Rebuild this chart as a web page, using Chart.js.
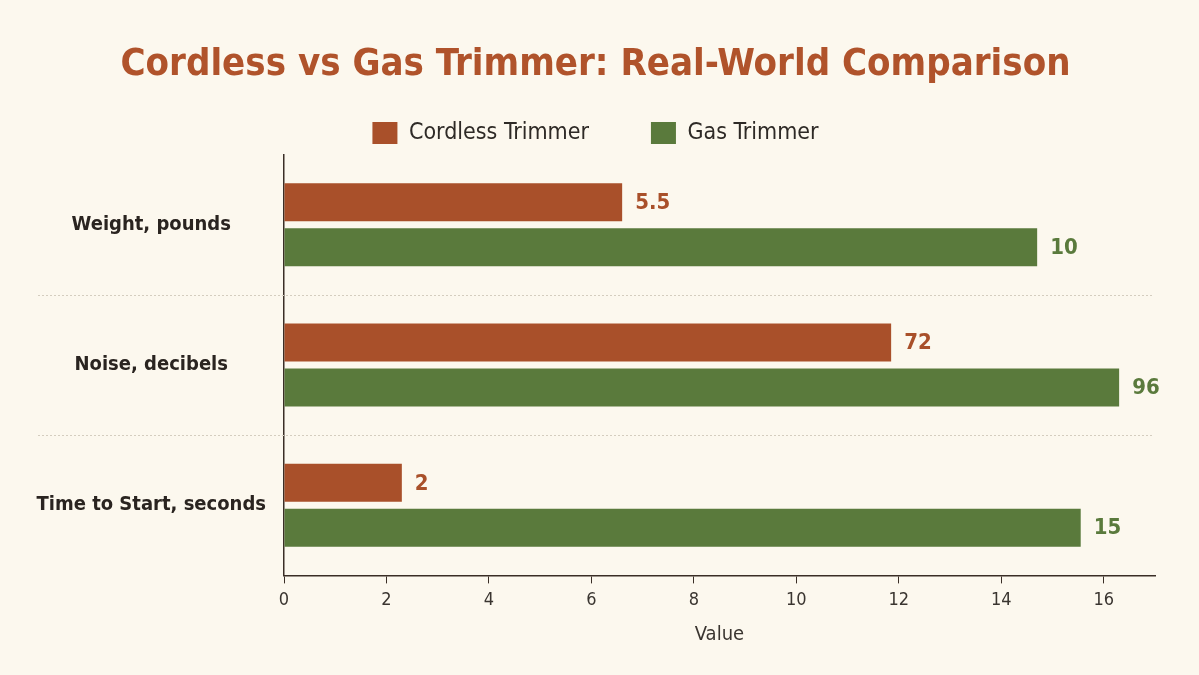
<!DOCTYPE html>
<html>
<head>
<meta charset="utf-8">
<script src="https://cdn.jsdelivr.net/npm/chart.js@4.4.0/dist/chart.umd.min.js"></script>
<style>
  html, body { margin: 0; padding: 0; background: #FCF8EE; }
  #wrap { width: 1199px; height: 675px; position: relative; }
</style>
</head>
<body>
<div id="wrap"><canvas id="c"></canvas></div>
<script>
const categories = ['Weight, pounds', 'Noise, decibels', 'Time to Start, seconds'];
const seriesNames = ['Cordless Trimmer', 'Gas Trimmer'];
// bar lengths as drawn against the value axis
const cordlessValues = [6.6, 11.85, 2.3];
const gasValues = [14.7, 16.3, 15.55];
// value labels printed next to the bars
const cordlessLabels = ['5.5', '72', '2'];
const gasLabels = ['10', '96', '15'];
const xTickValues = [0, 2, 4, 6, 8, 10, 12, 14, 16];
const xAxisTitle = 'Value';
const chartTitle = 'Cordless vs Gas Trimmer: Real-World Comparison';

const CORDLESS = '#A9502A';
const GAS = '#5A7A3C';
const INK = '#3A2E26';
const FONT = "'Liberation Sans Narrow', 'DejaVu Sans Condensed', 'Roboto', sans-serif";

const valueLabels = [cordlessLabels, gasLabels];
const labelColors = [CORDLESS, GAS];

const separatorPlugin = {
  id: 'separators',
  beforeDatasetsDraw(chart) {
    const y = chart.scales.y, ctx = chart.ctx, area = chart.chartArea;
    ctx.save();
    ctx.strokeStyle = '#D4CDBF';
    ctx.lineWidth = 1;
    ctx.setLineDash([2, 2]);
    for (let i = 1; i < categories.length; i++) {
      const py = Math.round((y.getPixelForValue(i - 1) + y.getPixelForValue(i)) / 2) + 0.5;
      ctx.beginPath();
      ctx.moveTo(area.left - 246, py);
      ctx.lineTo(area.right - 3, py);
      ctx.stroke();
    }
    ctx.restore();
  }
};

const valueLabelPlugin = {
  id: 'valueLabels',
  afterDatasetsDraw(chart) {
    const ctx = chart.ctx;
    ctx.save();
    ctx.font = "bold 22px " + FONT;
    ctx.textBaseline = 'middle';
    ctx.textAlign = 'left';
    chart.data.datasets.forEach((ds, di) => {
      const meta = chart.getDatasetMeta(di);
      meta.data.forEach((bar, i) => {
        ctx.fillStyle = labelColors[di];
        ctx.fillText(valueLabels[di][i], bar.x + 13, bar.y + 1);
      });
    });
    ctx.restore();
  }
};

new Chart(document.getElementById('c'), {
  type: 'bar',
  data: {
    labels: categories,
    datasets: [
      { label: seriesNames[0], data: cordlessValues, backgroundColor: CORDLESS, borderWidth: 0,
        categoryPercentage: 0.64, barPercentage: 0.845 },
      { label: seriesNames[1], data: gasValues, backgroundColor: GAS, borderWidth: 0,
        categoryPercentage: 0.64, barPercentage: 0.845 }
    ]
  },
  options: {
    indexAxis: 'y',
    responsive: true,
    maintainAspectRatio: false,
    animation: false,
    layout: { padding: { top: 14, left: 36, right: 44, bottom: 28 } },
    plugins: {
      title: {
        display: true,
        text: chartTitle,
        color: '#B0532B',
        font: { family: FONT, size: 38, weight: 'bold', lineHeight: 1.2 },
        padding: { top: 28, bottom: -28 }
      },
      legend: {
        display: true,
        position: 'top',
        labels: {
          boxWidth: 25, boxHeight: 22, padding: 62,
          color: '#2E2A26',
          font: { family: FONT, size: 23 }
        }
      },
      tooltip: { enabled: false }
    },
    scales: {
      x: {
        type: 'linear',
        min: 0, max: 17,
        afterBuildTicks(scale) { scale.ticks = xTickValues.map(v => ({ value: v })); },
        grid: { display: true, drawOnChartArea: false, drawTicks: true, tickLength: 8, tickColor: INK, tickWidth: 1 },
        border: { display: true, color: INK, width: 1.5 },
        ticks: { color: '#3A3530', padding: 6, font: { family: FONT, size: 18 } },
        title: { display: true, text: xAxisTitle, color: '#3A3530', font: { family: FONT, size: 20 }, padding: { top: 6, bottom: 0 } }
      },
      y: {
        type: 'category',
        grid: { display: false, drawTicks: false },
        border: { display: true, color: INK, width: 1.5 },
        ticks: { color: '#2A2420', padding: 18, crossAlign: 'center', font: { family: FONT, size: 20, weight: 'bold' } },
        afterFit(scale) { scale.width = 248; }
      }
    }
  },
  plugins: [separatorPlugin, valueLabelPlugin]
});
</script>
</body>
</html>
